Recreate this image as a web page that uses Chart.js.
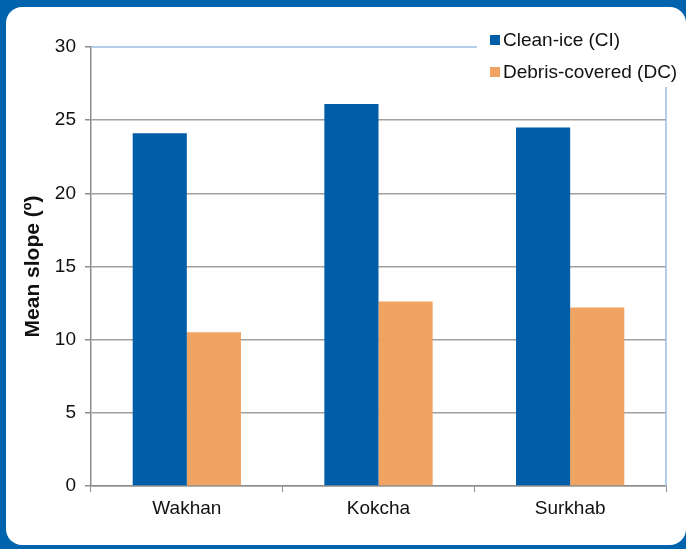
<!DOCTYPE html>
<html>
<head>
<meta charset="utf-8">
<script src="https://cdn.jsdelivr.net/npm/chart.js@4"></script>
<style>
  html, body { margin: 0; padding: 0; }
  body { width: 686px; height: 549px; background: #0063ae; position: relative; overflow: hidden; }
  #panel { position: absolute; left: 6px; top: 7px; width: 680px; height: 538px; background: #fff; border-radius: 16px; }
  #wrap { position: absolute; left: 0; top: 0; width: 686px; height: 549px; }
</style>
</head>
<body>
<div id="panel"></div>
<div id="wrap"><canvas id="grafico" width="686" height="549"></canvas></div>
<script>
const regioes = ['Wakhan', 'Kokcha', 'Surkhab'];
const cleanIce = [24.1, 26.1, 24.5];
const debrisCovered = [10.5, 12.6, 12.2];
const ticksY = [0, 5, 10, 15, 20, 25, 30];

const corAzul = '#005da8';
const corLaranja = '#f0a462';
const fonte = '"Liberation Sans", Arial, sans-serif';

// bordas azul-claro do quadro e legenda desenhada à mão
const bordaELegenda = {
  id: 'bordaELegenda',
  afterDraw(chart) {
    const { ctx, chartArea } = chart;
    ctx.save();
    ctx.strokeStyle = '#9dbfe6';
    ctx.lineWidth = 1.5;
    ctx.beginPath();
    ctx.moveTo(chartArea.left, chartArea.top);
    ctx.lineTo(477, chartArea.top);
    ctx.moveTo(chartArea.right, 87);
    ctx.lineTo(chartArea.right, chartArea.bottom);
    ctx.stroke();

    ctx.font = '19px ' + fonte;
    ctx.textBaseline = 'middle';
    chart.data.datasets.forEach((ds, i) => {
      const y = 40 + i * 32;
      ctx.fillStyle = ds.backgroundColor;
      ctx.fillRect(490, y - 5, 10, 10);
      ctx.fillStyle = '#111';
      ctx.fillText(ds.label, 503, y + 1);
    });
    ctx.restore();
  }
};

const ctx = document.getElementById('grafico');
new Chart(ctx.getContext('2d'), {
  type: 'bar',
  data: {
    labels: regioes,
    datasets: [
      { label: 'Clean-ice (CI)', data: cleanIce, backgroundColor: corAzul },
      { label: 'Debris-covered (DC)', data: debrisCovered, backgroundColor: corLaranja }
    ]
  },
  options: {
    responsive: false,
    animation: false,
    devicePixelRatio: 1,
    layout: { padding: { top: 47, right: 20, left: 0, bottom: 0 } },
    plugins: {
      legend: { display: false },
      tooltip: { enabled: false }
    },
    datasets: {
      bar: { categoryPercentage: 0.565, barPercentage: 1.0 }
    },
    scales: {
      x: {
        grid: { display: true, drawOnChartArea: false, offset: true, tickLength: 6, color: '#8e8e8e' },
        border: { color: '#8e8e8e', width: 1.5 },
        ticks: { color: '#111', font: { size: 19, family: fonte }, padding: 5 },
        afterFit(scale) { scale.height = 63; }
      },
      y: {
        min: 0,
        max: 30,
        afterBuildTicks(scale) { scale.ticks = ticksY.map(v => ({ value: v })); },
        grid: {
          color: c => (c.tick && c.tick.value === 30) ? 'rgba(0,0,0,0)' : '#a39e9a',
          tickColor: '#8e8e8e',
          lineWidth: 1.5,
          tickLength: 6
        },
        border: { color: '#8e8e8e', width: 1.5 },
        ticks: { color: '#111', font: { size: 19, family: fonte }, padding: 9 },
        title: {
          display: true,
          text: 'Mean slope (º)',
          color: '#111',
          font: { size: 21, weight: 'bold', family: fonte },
          padding: { top: 21, bottom: 0 }
        },
        afterFit(scale) { scale.width = 91; }
      }
    }
  },
  plugins: [bordaELegenda]
});
</script>
</body>
</html>
